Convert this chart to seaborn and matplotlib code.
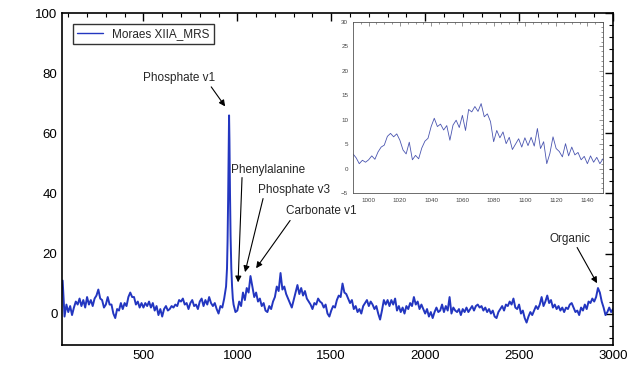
import numpy as np
import pandas as pd
import matplotlib
matplotlib.use("Agg")
import matplotlib.pyplot as plt
from matplotlib.ticker import MultipleLocator
import seaborn as sns

# Raman spectrum (intensity vs wavenumber)
# part a: 70..940 every 10
spec_a = [11, -1, 3,
          0.5, 2.5, -0.5, 2, 4, 3, 5, 2.5, 4.5, 2,
          5.5, 3, 4.5, 2.5, 5, 6, 8, 5, 4.5, 2,
          3, 5.5, 3, 3, 0, -1.5, 1.5, 1, 3.5, 1.5,
          3.5, 2.5, 5.5, 7, 5.5, 5.5, 3, 4, 2, 3.5,
          2, 3.5, 2.5, 4, 2, 3.5, 1, 2.5, -0.5, 1.5,
          -1, 1.5, 2.5, 1, 1.5, 2.5, 2, 3, 2.5, 4.5,
          4, 5, 3, 3.5, 1.5, 3.5, 4.5, 2.5, 3, 1.5,
          4, 5, 2.5, 4.5, 3, 5.5, 3.5, 2.5, 3.5, 1.5,
          0, 2.5, 2, 5, 9]
# phosphate v1 peak
peak_x = [945, 948, 951, 954, 956, 958, 961, 964, 968, 972, 976]
peak_y = [15, 24, 38, 57, 66, 58, 40, 26, 15, 9, 5]
# part b: 980..3000 every 10
spec_b = [3, 0.5,
          1, 4, 2.5, 7, 4.5, 8.5, 7, 12.5, 9, 5.5,
          7, 4, 5, 2.5, 3.5, 1, 0.5, 2.5, 1.5, 4,
          5.5, 9, 7.5, 13.5, 8, 9, 6.5, 5, 3.5, 2,
          4.5, 7, 9.5, 6.5, 8.5, 6, 7.5, 5, 4, 3,
          1.5, 3.5, 3, 5, 4, 3.5, 2, 3, 0, -1,
          1, 2.5, 2, 4.5, 6, 5.5, 10, 7, 6.5, 5,
          3.5, 4.5, 1.5, 2.5, 0.5, 1.5, 0, 2.5, 3.5, 4.5,
          2.5, 4, 3, 1.5, 2.5, 0, -2, 1, 4.5, 3,
          4.5, 2.5, 4.5, 3, 5, 1, 2.5, 0.5, 2, 0,
          2.5, 1.5, 3.5, 2.5, 5.5, 3, 4, 1.5, 3, 1.5,
          0, 1.5, -1, 0.5, -1.5, 0.5, 2, 0.5, 1, 3,
          0.5, 2.5, 1, 5.5, 0, 2, 1, 0.5, 1.5, -0.5,
          1.5, 0.5, 2, 0.5, 1.5, 2.5, 1, 2.5, 3, 2,
          2.5, 1, 2, 0.5, 1.5, 0, 1, -1, -1.5, 0.5,
          1.5, 2.5, 1, 3, 2.5, 4, 3, 5, 2, 1.5,
          3, 0, 1, -1.5, -3, -1, 0.5, -0.5, 1, 2.5,
          1.5, 3, 5.5, 2.5, 4, 6, 3.5, 4.5, 2, 3,
          1.5, 2.5, 1, 2, 0.5, 2, 1.5, 3, 3.5, 2,
          0.5, 1, -0.5, 2, 1, 3, 1.5, 4, 3.5, 5,
          4, 5.5, 8.5, 7, 4, 2, -0.5, 0.5, 2, 0.5, 1.5]

# zoomed region 990..1150 every 2
inset_y = [3.0, 2.2, 1.0, 1.7, 1.3, 1.8, 2.6, 1.9, 3.4, 4.4,
           4.8, 6.6, 7.2, 6.5, 7.1, 5.8, 3.8, 3.0, 5.4, 1.8,
           2.7, 2.0, 4.2, 5.6, 6.2, 8.6, 10.3, 8.6, 9.1, 7.9,
           8.8, 5.8, 8.9, 9.9, 8.4, 10.9, 7.8, 12.1, 11.6, 12.7,
           11.7, 13.3, 10.6, 11.2, 9.6, 5.5, 7.8, 6.3, 7.5, 5.1,
           6.4, 3.9, 5.0, 6.1, 4.4, 6.3, 4.7, 6.4, 4.6, 8.2,
           4.1, 5.5, 1.0, 3.1, 6.5, 4.1, 3.5, 2.4, 5.1, 2.6,
           4.4, 2.8, 3.3, 1.8, 2.5, 1.0, 2.6, 1.3, 2.3, 1.0, 2.0]

labels = ["Phosphate v1", "Phenylalanine", "Phosphate v3", "Carbonate v1", "Organic"]
label_pos = [(690, 78.4), (1163, 47.8), (1302, 41), (1446, 34.1), (2773, 24.8)]
arrow_from = [(861, 75.5), (1025, 45.3), (1137, 38.3), (1281, 31.0), (2809, 22.0)]
arrow_to = [(935, 69), (1004, 10.4), (1041, 13.8), (1100, 15.1), (2915, 10.1)]

wn = np.concatenate([70 + 10 * np.arange(len(spec_a)), peak_x,
                     980 + 10 * np.arange(len(spec_b))])
inten = np.concatenate([spec_a, peak_y, spec_b])
df = pd.DataFrame({"wn": wn, "I": inten}).sort_values("wn")
inset_df = pd.DataFrame({"wn": 990 + 2 * np.arange(len(inset_y)), "I": inset_y})

sns.set_style("white")
plt.rcParams["font.family"] = ["Liberation Sans", "DejaVu Sans"]

fig = plt.figure(figsize=(6.4, 3.86), dpi=100)
ax = fig.add_axes([0.0973, 0.106, 0.8605, 0.8595])
sns.lineplot(data=df, x="wn", y="I", ax=ax, color="#2336c0", lw=1.4,
             sort=False, label="Moraes XIIA_MRS")
ax.set_xlim(68, 3000)
ax.set_ylim(-10.5, 100)
ax.set_xlabel("")
ax.set_ylabel("")
ax.xaxis.set_major_locator(MultipleLocator(500))
ax.xaxis.set_minor_locator(MultipleLocator(100))
ax.yaxis.set_major_locator(MultipleLocator(20))
ax.yaxis.set_minor_locator(MultipleLocator(4))
ax.tick_params(which="both", direction="in", top=True, right=True,
               labelsize=9.5, colors="black")
ax.tick_params(which="major", length=6, width=1)
ax.tick_params(which="minor", length=3, width=0.8)
for s in ax.spines.values():
    s.set_color("black")
    s.set_linewidth(1.2)
leg = ax.legend(loc="upper left", fancybox=False, frameon=True, fontsize=8.5,
                handlelength=2.2, borderaxespad=0.9, borderpad=0.35)
leg.get_frame().set_edgecolor("black")
leg.get_frame().set_linewidth(1.0)
for line in leg.get_lines():
    line.set_linewidth(1.0)

for lab, pos, a0, a1 in zip(labels, label_pos, arrow_from, arrow_to):
    ax.text(pos[0], pos[1], lab, fontsize=8.5, ha="center", va="center")
    ax.annotate("", xy=a1, xytext=a0,
                arrowprops=dict(arrowstyle="-|>", color="black", lw=0.8,
                                mutation_scale=9, shrinkA=0, shrinkB=0))

# inset with the zoomed 990-1150 region
axin = fig.add_axes([0.5516, 0.5, 0.3906, 0.443])
sns.lineplot(data=inset_df, x="wn", y="I", ax=axin, color="#4a55b0", lw=0.6)
axin.set_xlim(990, 1150)
axin.set_ylim(-5, 30)
axin.set_xlabel("")
axin.set_ylabel("")
axin.xaxis.set_major_locator(MultipleLocator(20))
axin.xaxis.set_minor_locator(MultipleLocator(5))
axin.yaxis.set_major_locator(MultipleLocator(5))
axin.yaxis.set_minor_locator(MultipleLocator(1))
axin.tick_params(which="both", direction="in", top=True, right=True,
                 labelsize=4.5, colors="#444444", width=0.4)
axin.tick_params(which="major", length=3)
axin.tick_params(which="minor", length=1.5)
for s in axin.spines.values():
    s.set_color("#555555")
    s.set_linewidth(0.6)

fig.savefig("out.png", dpi=100)
